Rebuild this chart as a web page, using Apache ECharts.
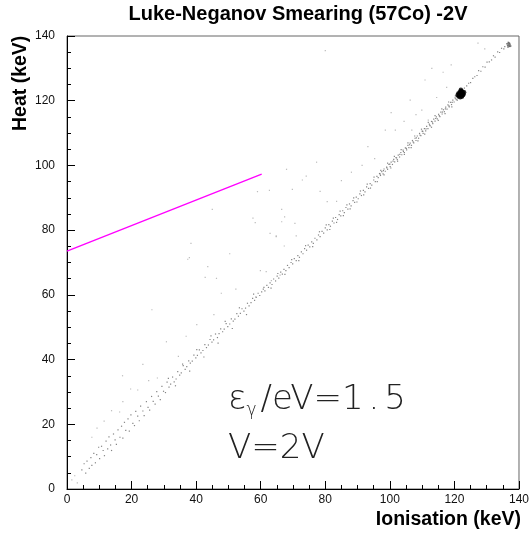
<!DOCTYPE html>
<html><head><meta charset="utf-8">
<script src="https://cdn.jsdelivr.net/npm/echarts@6/dist/echarts.min.js"></script>
<style>html,body{margin:0;padding:0;background:#fff}#c{width:532px;height:535px}</style>
</head><body><div id="c"></div>
<script>
// ---- data (Ionisation keV, Heat keV) ----
var titleText = 'Luke-Neganov Smearing (57Co) -2V';
var xName = 'Ionisation (keV)';
var yName = 'Heat (keV)';
var xTicks = [0, 20, 40, 60, 80, 100, 120, 140];
var yTicks = [0, 20, 40, 60, 80, 100, 120, 140];
var lineIon = [0, 60.3];
var lineHeat = [73.5, 97.3];

var bandLow = [[4.6,5.9],[5.3,7.8],[5.8,4.9],[6.2,8.6],[6.9,6.4],[7.4,9.7],[7.7,7.3],[8.3,11.0],[8.8,8.1],[9.2,10.6],[9.8,12.9],[10.1,9.4],[10.7,13.2],[11.2,11.9],[11.6,10.3],[12.1,14.8],[12.6,12.4],[13.0,16.1],[13.5,13.6],[13.8,11.9],[14.4,17.0],[14.9,15.2],[15.3,13.8],[15.8,18.3],[16.4,16.0],[16.9,19.4],[17.3,15.7],[17.8,20.6],[18.2,18.1],[18.9,21.7],[19.3,17.9],[19.8,22.9],[20.4,20.3],[20.9,19.6],[21.3,24.0],[21.9,22.5],[22.4,21.1],[22.8,25.6],[23.5,24.1],[23.9,22.7],[24.6,27.0],[25.1,25.2],[25.6,24.4],[26.2,28.6],[26.7,27.1],[27.3,26.2],[27.8,30.1],[28.3,28.7],[28.9,27.6],[29.4,31.7],[29.9,30.2]];
var bandMid = [[30.5,29.8],[31.0,33.0],[31.6,31.5],[32.1,32.4],[32.7,34.6],[33.2,33.1],[33.8,34.0],[34.3,36.3],[34.9,35.2],[35.4,35.9],[36.0,38.1],[36.6,37.0],[37.1,37.8],[37.7,39.6],[38.2,38.9],[38.8,39.5],[39.3,41.4],[39.9,40.5],[40.4,41.3],[41.0,43.0],[41.5,42.1],[42.1,42.8],[42.7,44.6],[43.2,43.7],[43.8,44.5],[44.3,46.2],[44.9,45.4],[45.4,46.1],[46.0,47.9],[46.6,46.8],[47.1,48.0],[47.6,49.5],[48.2,48.6],[48.7,49.4],[49.3,51.1],[49.8,50.2],[50.4,51.0],[50.9,52.6],[51.5,51.9],[52.0,52.5],[52.6,54.2],[53.1,53.4],[53.7,54.3],[54.2,55.7],[54.8,55.0],[55.3,55.9],[55.9,57.4],[56.4,56.6],[57.0,57.6],[57.5,58.9],[58.1,58.3],[58.6,59.2],[59.2,60.5],[59.7,59.8]];
var bandUpper = [[60.3,60.9],[60.8,61.8],[61.3,61.2],[61.9,62.9],[62.4,62.3],[62.9,63.7],[63.5,63.2],[64.0,64.9],[64.6,64.3],[65.1,65.8],[65.6,65.2],[66.2,67.0],[66.7,66.4],[67.2,67.9],[67.8,67.5],[68.3,69.1],[68.8,68.4],[69.4,70.0],[69.9,69.6],[70.4,71.2],[71.0,70.6],[71.5,72.1],[72.0,71.6],[72.6,73.3],[73.1,72.7],[73.6,74.3],[74.2,73.8],[74.7,75.4],[75.2,74.8],[75.8,76.4],[76.3,75.9],[76.8,77.5],[77.4,77.0],[77.9,78.5],[78.4,78.0],[79.0,79.6],[79.5,79.1],[80.0,80.7],[80.6,80.1],[81.1,81.7],[81.6,81.2],[82.2,82.8],[82.7,82.2],[83.2,83.9],[83.8,83.3],[84.3,84.8],[84.8,84.4],[85.4,86.0],[85.9,85.4],[86.4,87.0],[87.0,86.5],[87.5,88.1],[88.0,87.5],[88.6,89.1],[89.1,88.6],[89.6,90.2],[90.2,89.7],[90.7,91.2],[91.2,90.7],[91.8,92.3],[92.3,91.8],[92.8,93.4],[93.4,92.9],[93.9,94.4],[94.4,93.9],[95.0,95.5],[95.5,95.0],[96.0,96.6]];
var bandHigh = [[96.4,96.2],[96.8,97.5],[97.1,96.9],[97.5,98.1],[97.9,97.4],[98.2,98.9],[98.6,98.2],[99.0,99.5],[99.3,98.8],[99.7,100.3],[100.1,99.6],[100.4,101.0],[100.8,100.3],[101.2,101.9],[101.5,101.1],[101.9,102.4],[102.3,101.8],[102.6,103.2],[103.0,102.6],[103.4,104.0],[103.7,103.3],[104.1,104.7],[104.5,104.0],[104.8,105.4],[105.2,104.8],[105.6,106.2],[105.9,105.5],[106.3,106.9],[106.7,106.2],[107.0,107.7],[107.4,107.0],[107.8,108.4],[108.1,107.7],[108.5,109.1],[108.9,108.4],[109.2,109.9],[109.6,109.2],[110.0,110.6],[110.3,109.9],[110.7,111.4],[111.1,110.7],[111.4,112.1],[111.8,111.4],[112.2,112.8],[112.5,112.2],[112.9,113.6],[113.3,112.9],[113.6,114.3],[114.0,113.7],[114.4,115.0],[114.7,114.4],[115.1,115.8],[115.5,115.1],[115.8,116.5],[116.2,115.9],[116.6,117.2],[116.9,116.6],[117.3,118.0],[117.7,117.4],[118.0,118.7],[118.4,118.1],[118.8,119.5],[119.1,118.8],[119.5,120.2],[119.9,119.6],[120.2,120.9],[120.6,120.3],[121.0,121.6],[97.0,97.3],[98.0,98.4],[99.1,99.2],[100.0,100.4],[101.0,101.3],[102.1,102.3],[103.1,103.4],[104.2,104.3],[105.1,105.3],[106.1,106.4],[107.2,107.3],[108.2,108.5],[109.3,109.4],[110.2,110.5],[111.2,111.3],[112.3,112.5],[113.2,113.4],[114.2,114.5],[115.3,115.4],[116.3,116.5],[117.2,117.5],[118.3,118.4],[119.3,119.5],[120.4,120.6]];
var bandExtra = [[31.4,34.2],[33.6,31.9],[35.8,38.6],[38.0,36.4],[40.2,43.1],[42.4,40.8],[44.6,47.3],[46.8,45.1],[49.0,51.8],[51.2,49.6],[53.4,56.0],[55.6,53.9],[57.8,60.2],
[61.0,62.3],[63.2,62.1],[65.3,66.6],[67.5,66.3],[69.6,70.9],[71.8,70.6],[73.9,75.2],[76.1,74.9],[78.2,79.5],
[80.3,81.6],[81.4,80.2],[82.5,83.7],[83.5,82.4],[84.6,85.9],[85.6,84.5],[86.7,87.8],[87.7,86.6],[88.8,90.0],[89.8,88.7],[90.9,92.1],[91.9,90.9],[93.0,94.2],[94.0,93.0],[95.1,96.4],[96.1,95.0],[97.2,98.5],[98.2,97.1],[99.3,100.7],[100.3,99.2],[101.4,102.8],[102.4,101.3],[103.5,104.9],[104.5,103.4],[105.6,107.0],[106.6,105.5],[107.7,109.1],[108.7,107.6],[109.8,111.2],[110.8,109.7],[111.9,113.3],[112.9,111.8],[114.0,115.4],[115.0,113.9],[116.1,117.5],[117.1,116.0],[118.2,119.6],[119.2,118.1],[120.3,121.5],[120.9,120.2]];
var bandTop = [[123.1,123.9],[123.8,124.6],[124.4,125.4],[125.0,125.6],[125.7,126.9],[126.3,127.4],[127.0,127.8],[127.5,129.3],[128.2,129.1],[128.8,130.5],[129.5,130.4],[130.1,131.9],[130.8,132.0],[131.5,132.6],[132.1,133.9],[132.6,133.5],[133.4,135.1],[134.0,134.9],[134.6,136.2],[135.3,136.0],[135.6,136.7]];
var peak122 = [[121.4,121.6],[121.6,122.6],[121.8,121.1],[122.0,122.2],[122.2,123.0],[122.4,121.5],[122.6,122.4],[121.2,122.2],[122.8,122.0],[121.9,122.9],[122.3,121.2],[121.5,121.9],[122.5,122.8],[121.7,122.3],[122.1,121.7],[122.7,121.8],[121.3,121.3],[123.0,122.6],[122.0,123.4],[121.0,121.8]];
var peak137 = [[136.5,137.1],[136.8,137.5],[137.1,136.8],[136.9,137.0],[136.6,136.6],[137.2,137.4],[136.3,137.6],[137.4,136.9],[136.7,138.0],[137.0,137.8]];
var scatterPts = [[9.3,18.8],[7.7,16.0],[17.2,35.0],[17.3,27.0],[16.3,23.8],[19.7,30.9],[21.9,30.6],[25.3,33.5],[28.0,34.3],[1.5,2.8],[2.4,4.1],[3.2,1.9],[11.5,21.0],[13.8,24.2],[23.5,38.5],[30.8,45.5],[34.5,41.0],[36.9,47.2],[40.2,50.8],[45.5,53.9],[47.8,60.5],[52.3,61.8],[26.3,55.4],
[45.0,86.4],[59.0,91.9],[62.7,92.3],[57.6,83.7],[58.3,82.3],[62.9,79.0],[64.8,78.2],[38.4,75.9],[37.9,71.5],[37.4,71.0],[50.4,72.7],[43.6,68.7],[42.8,65.4],[46.3,65.1],[59.9,67.5],[61.7,67.2],[77.3,101.0],[68.0,98.8],[91.4,100.0],[74.1,96.7],[72.9,95.5],[69.8,92.6],[66.5,86.4],[67.4,84.1],[66.5,82.6],[70.6,82.1],[64.8,78.0],[67.3,75.1],[71.0,78.2],[63.3,64.4],[66.0,66.1],[58.5,59.4],
[98.6,110.9],[101.7,110.9],[106.8,110.9],[109.9,117.1],[106.3,120.2],[110.9,126.4],[111.9,114.0],[113.0,130.0],[116.5,128.8],[119.0,131.1],[104.4,113.6],[108.1,115.7],[114.5,121.0],[117.6,124.1],[95.3,102.1],[88.1,97.9],[85.0,95.3],[80.6,88.8],[83.5,88.9],[78.4,92.0],[93.2,105.8],[100.4,116.3],[80.0,135.5],[127.3,137.8],[129.4,136.0]];

var bandDots = [].concat(bandLow, bandMid, bandUpper, bandHigh, bandExtra, bandTop);

var chart = echarts.init(document.getElementById('c'), null, {renderer: 'canvas'});
var axisCommon = {
  type: 'value', min: 0, max: 140, interval: 20,
  axisLine: {show: true, onZero: false, lineStyle: {color: '#000', width: 1}},
  axisTick: {show: true, inside: true, length: 8, lineStyle: {color: '#000'}},
  minorTick: {show: true, splitNumber: 4, length: 4, lineStyle: {color: '#000'}},
  splitLine: {show: false},
  axisLabel: {color: '#111', fontFamily: 'Liberation Sans', fontSize: 12}
};
var thin = {fontFamily: 'DejaVu Sans', fontWeight: 200, fontSize: 34, fill: '#222'};
chart.setOption({
  animation: false,
  backgroundColor: '#fff',
  grid: {left: 67, right: 11, top: 36, bottom: 46, show: true, borderColor: '#666', borderWidth: 1},
  xAxis: Object.assign({}, axisCommon, {axisLabel: Object.assign({}, axisCommon.axisLabel, {margin: 5})}),
  yAxis: Object.assign({}, axisCommon, {axisLabel: Object.assign({}, axisCommon.axisLabel, {margin: 12})}),
  graphic: [
    {type: 'text', x: 298, y: 4, style: {text: titleText, font: 'bold 20px "Liberation Sans"', fill: '#000', align: 'center'}},
    {type: 'text', x: 521, y: 510, style: {text: xName, font: 'bold 19.5px "Liberation Sans"', fill: '#000', align: 'right'}},
    {type: 'text', x: 11, y: 131, rotation: Math.PI / 2, style: {text: yName, font: 'bold 19.5px "Liberation Sans"', fill: '#000'}},
    {type: 'text', x: 228, y: 382, style: {text: '{a|ε}{b|γ}{a|/eV=1}{a2|.}{a|5}', rich: {
      a: thin,
      a2: Object.assign({}, thin, {padding: [0, 5, 0, 5]}),
      b: {fontFamily: 'DejaVu Sans', fontWeight: 200, fontSize: 17, fill: '#222', verticalAlign: 'bottom', padding: [20, 4, 0, 0]}}}},
    {type: 'text', x: 228, y: 432, style: {text: 'V=2V', font: '200 34px "DejaVu Sans"', fill: '#222'}}
  ],
  series: [
    {type: 'scatter', data: bandDots, symbol: 'rect', symbolSize: 1.2, itemStyle: {color: '#666'}},
    {type: 'scatter', data: scatterPts, symbol: 'rect', symbolSize: 1.2, itemStyle: {color: '#aaa'}},
    {type: 'scatter', data: peak122, symbol: 'circle', symbolSize: 4.5, itemStyle: {color: '#000'}},
    {type: 'scatter', data: peak137, symbol: 'rect', symbolSize: 1.6, itemStyle: {color: '#555'}},
    {type: 'line', data: [[lineIon[0], lineHeat[0]], [lineIon[1], lineHeat[1]]], symbol: 'none', lineStyle: {color: '#ff00ff', width: 1.3}}
  ]
});
</script></body></html>
